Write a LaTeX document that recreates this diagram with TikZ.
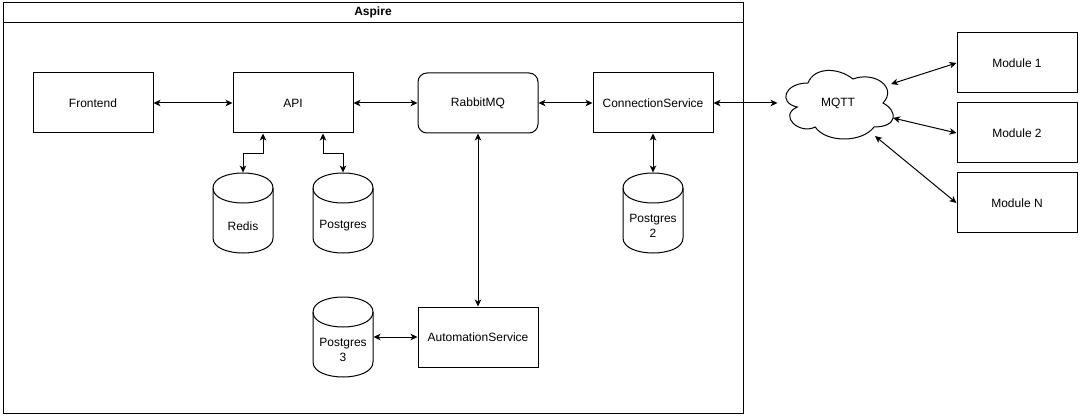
\documentclass[tikz,border=0pt]{standalone}
\usepackage{fontspec}
\setmainfont{Liberation Sans}
\usetikzlibrary{arrows.meta,calc}
\newcommand{\dbcyl}[4]{%
  \node[cylbox] (#1) at (#2,#3) {};
  \begin{scope}[shift={(#2,#3)}]
    \draw (-30,-25) .. controls (-30,-45) and (30,-45) .. (30,-25) -- (30,25)
          .. controls (30,45) and (-30,45) .. (-30,25) -- cycle;
    \draw (-30,-25) .. controls (-30,-5) and (30,-5) .. (30,-25);
  \end{scope}
  \node[align=center, inner sep=0pt] (#1-t) at (#2,#3+13) {#4};
}
\begin{document}
\begin{tikzpicture}[x=1pt,y=-1pt, line width=1pt, font=\fontsize{12}{15}\selectfont,
  box/.style={draw, minimum width=120pt, minimum height=60pt, inner sep=0pt},
  rbox/.style={box, rounded corners=9pt},
  cylbox/.style={minimum width=60pt, minimum height=80pt, inner sep=0pt},
  tip/.style={Stealth[length=7pt,width=6.5pt,inset=2pt]},
  conn/.style={{Stealth[length=7pt,width=6.5pt,inset=2pt]}-{Stealth[length=7pt,width=6.5pt,inset=2pt]}, line width=1pt}]
\useasboundingbox (0,0) rectangle (1080,417);
% container
\node[draw, minimum width=740pt, minimum height=410pt, inner sep=0pt] (aspire) at (373,208) {};
\draw ($(aspire.north west)+(0,20)$) -- ($(aspire.north east)+(0,20)$);
\node[font=\fontsize{12}{15}\selectfont\bfseries] (title) at ($(aspire.north)+(0,10)$) {Aspire};
% boxes
\node[box] (fe) at (93,103) {Frontend};
\node[box] (api) at (293,103) {API};
\node[rbox] (rmq) at (478,103) {RabbitMQ};
\node[box] (cs) at (653,103) {ConnectionService};
\node[box] (auto) at (478,337) {AutomationService};
\node[box] (m1) at (1017,63) {Module 1};
\node[box] (m2) at (1017,133) {Module 2};
\node[box] (mn) at (1017,203) {Module N};
% cloud
\node[minimum width=120pt, minimum height=80pt, inner sep=0pt] (mqtt) at (838,103) {MQTT};
\begin{scope}[shift={(778,63)}]
  \draw (30,20) .. controls (6,20) and (0,40) .. (19.2,44)
        .. controls (0,52.8) and (21.6,72) .. (37.2,64)
        .. controls (48,80) and (84,80) .. (96,64)
        .. controls (120,64) and (120,48) .. (105,40)
        .. controls (120,24) and (96,8) .. (75,16)
        .. controls (60,4) and (36,4) .. (30,20) -- cycle;
\end{scope}
\coordinate (c1) at (891,84);
\coordinate (c2) at (893,118);
\coordinate (c3) at (875,136);
% cylinders
\dbcyl{redis}{243}{213}{Redis}
\dbcyl{pg}{343}{213}{Postgres}
\dbcyl{pgtwo}{653}{213}{Postgres\\2}
\dbcyl{pgthree}{343}{337}{Postgres\\3}
% connectors
\draw[conn] (fe) -- (api);
\draw[conn] (api) -- (rmq);
\draw[conn] (rmq) -- (cs);
\draw[conn] (cs.east) -- (mqtt.west);
\draw[conn] ($(api.south)+(-30,0)$) -- ++(0,20) -| (redis.north);
\draw[conn] ($(api.south)+(30,0)$) -- ++(0,20) -| (pg.north);
\draw[conn] (rmq) -- (auto);
\draw[conn] (cs) -- (pgtwo);
\draw[conn] (pgthree) -- (auto);
\draw[conn] (c1) -- (m1.west);
\draw[conn] (c2) -- (m2.west);
\draw[conn] (c3) -- (mn.west);
\end{tikzpicture}
\end{document}
